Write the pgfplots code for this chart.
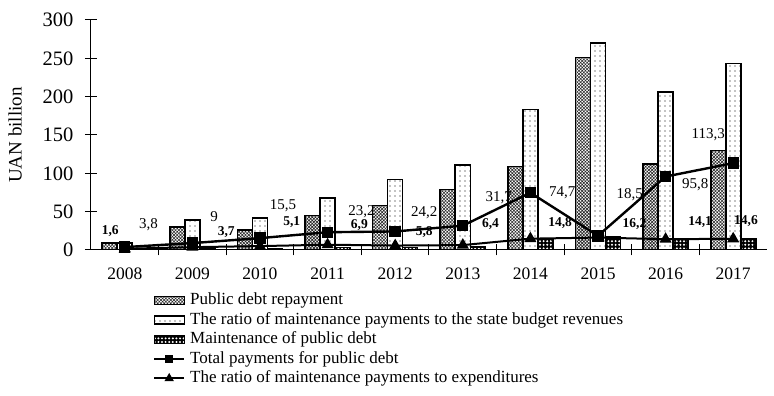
\documentclass[border=0pt]{standalone}
\usepackage{pgfplots}
\pgfplotsset{compat=1.18}
\usepackage{fontspec}
\setmainfont{Liberation Serif}
\usetikzlibrary{patterns.meta}
\pgfplotsset{
  mybarlegend/.style={legend image code/.code={\draw[##1, line width=1.2pt] (0pt,-4pt) rectangle (30pt,4pt);}},
  mylinelegend/.style={legend image code/.code={\draw[mark repeat=2,mark phase=2,##1, line width=2pt, mark size=#1] plot coordinates {(0pt,0pt)(15pt,0pt)(30pt,0pt)};}},
}

\begin{document}
\begin{tikzpicture}
\begin{axis}[
  name=ax,
  scale only axis,
  width=676pt, height=230pt,
  xmin=-0.5, xmax=9.5, ymin=0, ymax=300,
  axis x line=bottom, axis y line=left,
  axis line style={-, line width=1pt},
  /pgf/number format/assume math mode=true,
  ytick={0,50,...,300},
  xtick={0,...,9},
  xticklabels={2008,2009,2010,2011,2012,2013,2014,2015,2016,2017},
  minor xtick={0.5,1.5,...,8.5},
  major x tick style={draw=none},
  tick align=center,
  major tick length=12pt,
  minor tick length=11pt,
  tick style={line width=1pt, black},
  yticklabel style={font=\fontsize{20.5}{22}\selectfont, xshift=-8pt},
  xticklabel style={font=\fontsize{17.5}{20}\selectfont, yshift=-8pt},
  ylabel={UAN billion},
  ylabel style={font=\fontsize{19}{22}\selectfont, at={(axis description cs:-0.1124,0.5)}, anchor=center},
  legend style={at={(axis description cs:0.0917,-0.1826)}, anchor=north west,
    draw=none, fill=none, inner sep=0pt, row sep=3pt,
    font=\fontsize{17}{20}\selectfont,
    nodes={inner sep=0pt, text height=12.5pt, text depth=4pt},
    /tikz/every odd column/.append style={column sep=5pt}},
  legend cell align=left,
]
\addplot[ybar, bar width=15pt, bar shift=-15pt, draw=black, line width=1.6pt,
  pattern={Hatch[angle=45,distance=2.3pt,line width=0.6pt]}, pattern color=black!85,
  mybarlegend]
  coordinates {(0,9)(1,30)(2,26)(3,45)(4,58)(5,79)(6,109)(7,251)(8,112)(9,130)};
\addlegendentry{Public debt repayment}
\addplot[ybar, bar width=15pt, bar shift=0pt, draw=black, line width=1.6pt,
  pattern={Dots[distance=5pt,radius=0.6pt]}, pattern color=black,
  mybarlegend]
  coordinates {(0,9)(1,39)(2,42)(3,68)(4,92)(5,111)(6,183)(7,270)(8,206)(9,243)};
\addlegendentry{The ratio of maintenance payments to the state budget revenues}
\addplot[ybar, bar width=15pt, bar shift=15pt, draw=black, line width=1.6pt,
  fill=black, postaction={pattern={Dots[distance=3.6pt,radius=1.1pt]}, pattern color=white},
  mybarlegend]
  coordinates {(0,1)(1,2)(2,2)(3,3)(4,3)(5,4)(6,15)(7,17)(8,14)(9,15)};
\addlegendentry{Maintenance of public debt}
\addplot[black, line width=2.4pt, mark=square*, mark size=4.5pt, mark options={solid},
  mylinelegend=3pt]
  coordinates {(0,3.8)(1,9)(2,15.5)(3,23.2)(4,24.2)(5,31.7)(6,74.7)(7,18.5)(8,95.8)(9,113.3)};
\addlegendentry{Total payments for public debt}
\addplot[black, line width=2pt, mark=triangle*, mark size=5pt, mark options={solid},
  mylinelegend=3.5pt]
  coordinates {(0,1.6)(1,3.7)(2,5.1)(3,6.9)(4,5.8)(5,6.4)(6,14.8)(7,16.2)(8,14.1)(9,14.6)};
\addlegendentry{The ratio of maintenance payments to expenditures}

\begin{scope}[every node/.style={font=\fontsize{15}{17}\selectfont, inner sep=0pt}]
\node at (axis cs:0.351,32.6) {3,8};
\node at (axis cs:1.32,43) {9};
\node at (axis cs:2.34,57.4) {15,5};
\node at (axis cs:3.5,50) {23,2};
\node at (axis cs:4.43,48.5) {24,2};
\node at (axis cs:5.53,67.8) {31,7};
\node at (axis cs:6.47,74.3) {74,7};
\node at (axis cs:7.47,71.7) {18,5};
\node at (axis cs:8.44,84.8) {95,8};
\node at (axis cs:8.63,150.9) {113,3};
\end{scope}
\begin{scope}[every node/.style={font=\bfseries\fontsize{13.5}{16}\selectfont, inner sep=0pt}]
\node at (axis cs:-0.216,24.8) {1,6};
\node at (axis cs:1.5,23.9) {3,7};
\node at (axis cs:2.47,37) {5,1};
\node at (axis cs:3.47,32) {6,9};
\node at (axis cs:4.43,23.9) {5,8};
\node at (axis cs:5.41,33.9) {6,4};
\node at (axis cs:6.44,34.8) {14,8};
\node at (axis cs:7.54,33.9) {16,2};
\node at (axis cs:8.51,36.9) {14,1};
\node at (axis cs:9.19,37.8) {14,6};
\end{scope}
\end{axis}
\path (ax.south west) ++(-91pt,-146pt) rectangle ++(774pt,396pt);
\end{tikzpicture}
\end{document}
